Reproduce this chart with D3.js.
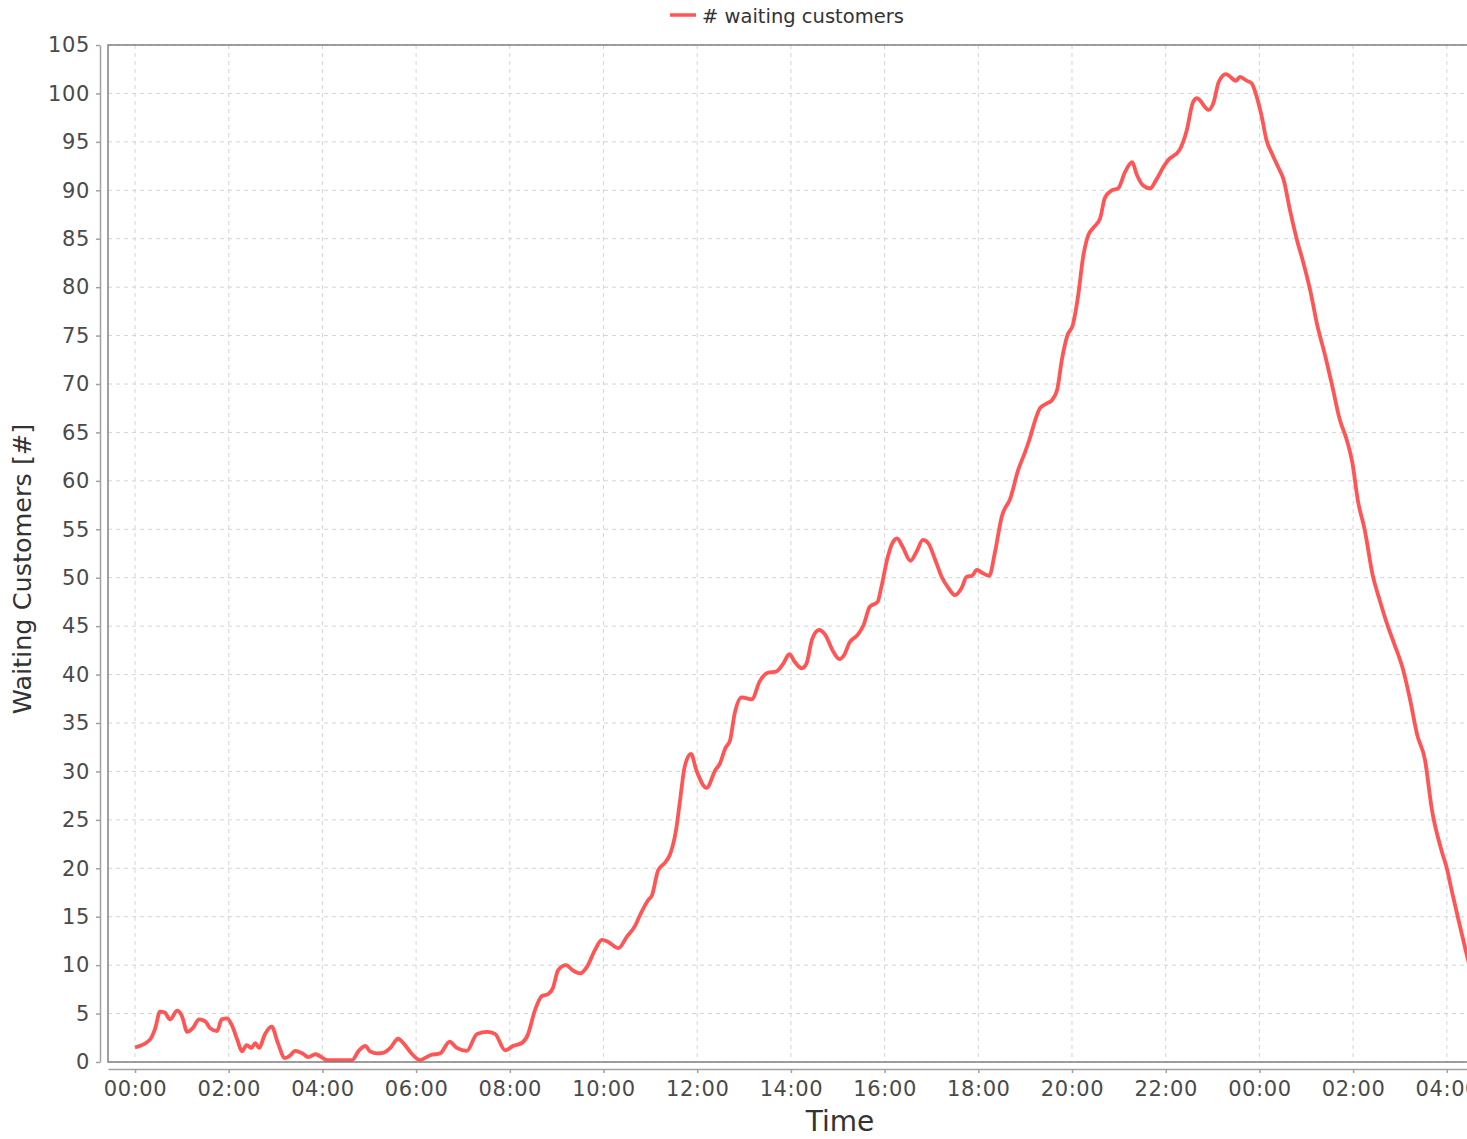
<!DOCTYPE html>
<html>
<head>
<meta charset="utf-8">
<script src="https://cdn.jsdelivr.net/npm/d3@7"></script>
<style>
  body { margin: 0; background: #fff; overflow: hidden; }
  svg { display: block; }
  .tick text { font-family: "DejaVu Sans", sans-serif; font-size: 21px; letter-spacing: 0.6px; fill: #4a4a4a; }
</style>
</head>
<body>
<svg id="chart" width="1467" height="1139"></svg>
<script>
// minutes since 00:00 of the first day
const minutes = [
  0, 19, 26, 32, 38, 45, 54, 60, 67, 74,
  82, 90, 96, 105, 111, 118, 124, 131, 137, 143,
  149, 154, 159, 166, 175, 183, 192, 199, 205, 214,
  222, 231, 237, 246, 254, 266, 278, 286, 295, 301,
  310, 318, 327, 337, 343, 355, 365, 371, 378, 391,
  403, 412, 425, 438, 451, 461, 474, 484, 496, 503,
  512, 521, 529, 535, 542, 552, 560, 570, 579, 589,
  598, 606, 619, 630, 640, 647, 657, 662, 670, 679,
  685, 693, 698, 704, 712, 719, 732, 743, 749, 756,
  762, 768, 777, 790, 800, 811, 821, 830, 838, 845,
  854, 860, 867, 876, 884, 894, 902, 908, 915, 926,
  933, 941, 951, 956, 963, 969, 976, 983, 993, 1001,
  1009, 1016, 1025, 1033, 1042, 1050, 1059, 1065, 1072, 1078,
  1086, 1094, 1101, 1110, 1121, 1131, 1140, 1146, 1153, 1159,
  1168, 1174, 1181, 1187, 1194, 1201, 1208, 1214, 1221, 1227,
  1236, 1242, 1251, 1259, 1268, 1277, 1283, 1291, 1300, 1308,
  1317, 1323, 1338, 1347, 1355, 1360, 1375, 1381, 1388, 1397,
  1410, 1415, 1424, 1430, 1436, 1443, 1449, 1456, 1464, 1471,
  1479, 1488, 1496, 1505, 1514, 1524, 1533, 1543, 1552, 1559,
  1566, 1575, 1585, 1594, 1604, 1613, 1624, 1633, 1642, 1652,
  1661, 1673, 1680, 1686, 1694, 1705, 1712
];
const waiting = [
  1.5, 2.3, 3.5, 5.2, 5.1, 4.4, 5.3, 4.75, 3.1, 3.5,
  4.4, 4.2, 3.5, 3.2, 4.4, 4.5, 3.8, 2.3, 1.1, 1.75,
  1.45, 1.95, 1.45, 2.8, 3.65, 1.95, 0.4, 0.7, 1.15, 0.9,
  0.5, 0.8, 0.6, 0.2, 0.2, 0.2, 0.2, 1.1, 1.65, 1.1,
  0.9, 0.95, 1.45, 2.4, 2.0, 0.8, 0.2, 0.4, 0.7, 0.9,
  2.1, 1.45, 1.15, 2.9, 3.1, 2.9, 1.2, 1.65, 2.0, 2.8,
  5.3, 6.8, 7.0, 7.6, 9.5, 10.0, 9.5, 9.15, 9.85, 11.55,
  12.6, 12.4, 11.75, 12.95, 14.0, 15.2, 16.7, 17.2, 19.8, 20.6,
  21.4, 24, 27, 30.5, 31.8, 30.1, 28.3, 30.1, 30.8, 32.4,
  33.2, 36, 37.65, 37.45, 39.3, 40.2, 40.3, 41.1, 42.1, 41.3,
  40.65, 41.15, 43.6, 44.6, 44.1, 42.4, 41.6, 42.0, 43.3, 44.15,
  45.1, 47, 47.5, 49.1, 51.8, 53.4, 54.05, 53.2, 51.75, 52.7,
  53.9, 53.55, 51.8, 50.1, 48.9, 48.2, 49.0, 50.1, 50.2, 50.8,
  50.45, 50.2, 52.5, 56.3, 58.2, 61.1, 63, 64.4, 66.3, 67.5,
  68, 68.3, 69.4, 72.5, 75, 76.1, 79.2, 83, 85.4, 86.1,
  87.1, 89.2, 90, 90.2, 91.9, 92.9, 91.6, 90.5, 90.2, 91.1,
  92.4, 93.1, 94.2, 96.2, 99.1, 99.5, 98.3, 99, 101.2, 102.0,
  101.3, 101.7, 101.3, 101.05, 99.8, 97.6, 95.2, 93.8, 92.4, 91.1,
  88, 84.9, 82.6, 79.7, 76.1, 73, 69.9, 66.3, 64.2, 61.9,
  58.0, 54.9, 50.3, 47.7, 45.1, 43.1, 40.5, 37.4, 33.8, 31.2,
  26, 21.9, 20, 17.8, 15, 11.25, 9
];
const seriesName = '# waiting customers';
const yTicks = d3.range(0, 106, 5);
const xLabel = 'Time';
const yLabel = 'Waiting Customers [#]';

const base = new Date(2020, 0, 1, 0, 0);
const atMin = m => new Date(base.getTime() + m * 60000);

const svg = d3.select('#chart');
const plot = { left: 108, top: 45, right: 1470, bottom: 1062 };

const x = d3.scaleTime()
  .domain([atMin(-34.6), atMin(1709.7)])
  .range([plot.left, plot.right]);
const y = d3.scaleLinear()
  .domain([0, 105])
  .range([plot.bottom, plot.top]);

const xTicks = x.ticks(d3.timeHour.every(2));

// grid
const grid = svg.append('g');
grid.selectAll('.gx').data(xTicks).enter().append('line')
  .attr('x1', d => x(d)).attr('x2', d => x(d))
  .attr('y1', plot.top).attr('y2', plot.bottom)
  .attr('stroke', '#d4d4d4').attr('stroke-dasharray', '4,4');
grid.selectAll('.gy').data(yTicks).enter().append('line')
  .attr('x1', plot.left).attr('x2', plot.right)
  .attr('y1', d => y(d)).attr('y2', d => y(d))
  .attr('stroke', '#d4d4d4').attr('stroke-dasharray', '4,4');

// the series
svg.append('clipPath').attr('id', 'clip')
  .append('rect')
  .attr('x', plot.left).attr('y', plot.top)
  .attr('width', plot.right - plot.left).attr('height', plot.bottom - plot.top);

const data = minutes.map((m, i) => ({ t: atMin(m), v: waiting[i] }));
const line = d3.line()
  .x(d => x(d.t))
  .y(d => y(d.v))
  .curve(d3.curveMonotoneX);

svg.append('path')
  .datum(data)
  .attr('clip-path', 'url(#clip)')
  .attr('fill', 'none')
  .attr('stroke', '#ff5555')
  .attr('stroke-width', 3.8)
  .attr('stroke-linejoin', 'round')
  .attr('d', line);

// plot border (top + left visible, right is cut off by the window)
svg.append('rect')
  .attr('x', plot.left).attr('y', plot.top)
  .attr('width', plot.right - plot.left + 10).attr('height', plot.bottom - plot.top)
  .attr('fill', 'none').attr('stroke', '#808080').attr('stroke-width', 1.5);

// axes
const yAxis = svg.append('g')
  .attr('transform', 'translate(100,0)')
  .call(d3.axisLeft(y).tickValues(yTicks).tickSize(4).tickSizeOuter(0).tickPadding(6));
const xAxis = svg.append('g')
  .attr('transform', 'translate(0,1069)')
  .call(d3.axisBottom(x).tickValues(xTicks).tickFormat(d3.timeFormat('%H:%M'))
    .tickSize(4).tickSizeOuter(0).tickPadding(8));
[yAxis, xAxis].forEach(a => {
  a.select('.domain').attr('stroke', '#a0a0a0').attr('stroke-width', 1.5);
  a.selectAll('.tick line').attr('stroke', '#a0a0a0').attr('stroke-width', 1.5);
});

// axis labels
svg.append('text')
  .attr('x', 840).attr('y', 1131)
  .attr('text-anchor', 'middle')
  .attr('font-family', 'DejaVu Sans, sans-serif')
  .attr('font-size', 28)
  .attr('fill', '#333')
  .text(xLabel);
svg.append('text')
  .attr('transform', 'translate(31,569) rotate(-90)')
  .attr('text-anchor', 'middle')
  .attr('font-family', 'DejaVu Sans, sans-serif')
  .attr('font-size', 25.5)
  .attr('fill', '#333')
  .text(yLabel);

// legend
const legend = svg.append('g');
legend.append('line')
  .attr('x1', 670).attr('x2', 696).attr('y1', 15).attr('y2', 15)
  .attr('stroke', '#ff5555').attr('stroke-width', 3.5);
legend.append('text')
  .attr('x', 702).attr('y', 22.5)
  .attr('font-family', 'DejaVu Sans, sans-serif')
  .attr('font-size', 19.5)
  .attr('fill', '#333')
  .text(seriesName);
</script>
</body>
</html>
